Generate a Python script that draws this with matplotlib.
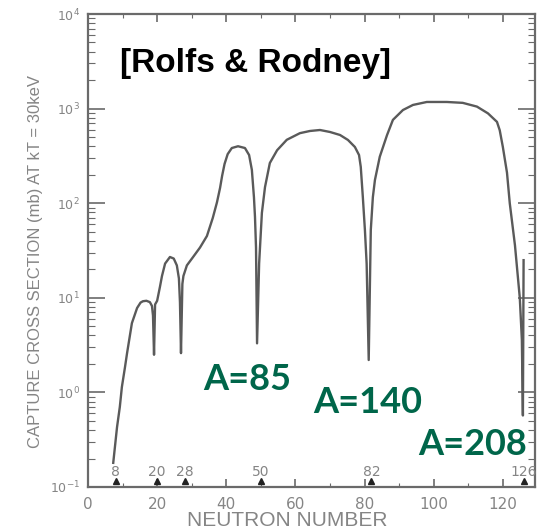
import matplotlib
matplotlib.use("Agg")
import matplotlib.pyplot as plt
from matplotlib.ticker import MultipleLocator, LogLocator, NullFormatter

# capture cross section curve
neutron_number = [7.3, 8.4, 9.2, 9.8, 10.7, 11.3, 12.7, 14.2, 15.2, 15.9, 16.9, 17.9, 18.5,
                  18.8, 19.1, 19.4, 20.0, 20.8, 21.4, 22.3, 23.7, 24.8, 25.7, 26.3, 26.6,
                  26.9, 27.3, 27.6, 28.6, 30.4, 32.4, 34.4, 36.1, 37.3, 38.2, 38.8, 39.5,
                  40.4, 41.6, 43.4, 45.4, 46.6, 47.4, 48.0, 48.3, 48.6, 48.9, 49.5, 50.3,
                  51.2, 52.6, 54.7, 57.5, 61.3, 64.2, 67.1, 70.0, 72.9, 75.2, 77.2, 78.4,
                  78.9, 79.5, 80.1, 80.6, 81.2, 81.8, 82.4, 83.0, 84.4, 86.5, 88.2, 91.1,
                  94.0, 98.0, 103.8, 108.4, 112.5, 115.7, 118.3, 119.1, 120.0, 121.2, 122.0,
                  123.5, 124.9, 125.5, 125.8, 126.0]
cross_section = [0.18, 0.43, 0.70, 1.14, 1.85, 2.6, 5.4, 7.8, 8.9, 9.2, 9.3, 9.0, 8.2,
                 6.5, 2.5, 8.5, 9.3, 13.0, 17.0, 23.0, 27.0, 26.0, 22.0, 16.0, 9.0,
                 2.6, 14.0, 17.0, 22.0, 27.0, 34.0, 45.0, 70.0, 102.0, 145.0, 195.0, 260.0,
                 330.0, 383.0, 400.0, 383.0, 323.0, 225.0, 116.0, 72.0, 34.0, 3.3, 23.0, 79.0,
                 148.0, 266.0, 363.0, 468.0, 550.0, 580.0, 594.0, 566.0, 526.0, 466.0, 393.0, 323.0,
                 242.0, 116.0, 52.0, 23.0, 2.2, 52.0, 116.0, 176.0, 310.0, 525.0, 760.0, 966.0,
                 1093.0, 1175.0, 1175.0, 1150.0, 1050.0, 890.0, 724.0, 590.0, 393.0, 210.0, 100.0,
                 36.0, 10.0, 3.6, 0.57, 25.0]

magic_numbers = [8, 20, 28, 50, 82, 126]
mass_labels = ["A=85", "A=140", "A=208"]

gray = "#6a6a6a"
light_gray = "#858585"
green = "#00664a"

fig = plt.figure(figsize=(5.39, 5.29), dpi=100)
ax = fig.add_axes([88 / 539, 1 - 487 / 529, 447 / 539, 473 / 529])

ax.plot(neutron_number, cross_section, color="#5a5a5a", lw=1.7, solid_joinstyle="round")

ax.set_yscale("log")
ax.set_xlim(0, 129.3)
ax.set_ylim(0.1, 1e4)

for s in ax.spines.values():
    s.set_color(gray)
    s.set_linewidth(1.6)

ax.xaxis.set_major_locator(MultipleLocator(20))
ax.xaxis.set_minor_locator(MultipleLocator(10))
ax.yaxis.set_major_locator(LogLocator(base=10, numticks=10))
ax.yaxis.set_minor_locator(LogLocator(base=10, subs=range(2, 10), numticks=10))
ax.yaxis.set_minor_formatter(NullFormatter())

ax.tick_params(axis="both", which="both", direction="in", top=True, right=True, colors=gray)
ax.tick_params(axis="y", which="major", length=12, width=1.2, pad=6, labelsize=9, labelcolor=light_gray)
ax.tick_params(axis="y", which="minor", length=5, width=0.8)
ax.tick_params(axis="x", which="major", length=6, width=1.2, pad=7, labelsize=11, labelcolor=light_gray)
ax.tick_params(axis="x", which="minor", length=3, width=0.8)

# magic number markers along the bottom
trans = ax.get_xaxis_transform()
ax.plot(magic_numbers, [0.012] * len(magic_numbers), "^", ms=4, color="#222222",
        transform=trans, clip_on=False)
for m in magic_numbers:
    ax.text(m, 0.031, str(m), transform=trans, ha="center", va="center",
            fontsize=10, color=light_gray)

fig.text(36 / 539, 1 - 261 / 529, "CAPTURE CROSS SECTION (mb) AT kT = 30keV",
         rotation=90, ha="center", va="center", fontsize=12,
         family="Liberation Sans", color=light_gray)
fig.text(287 / 539, 1 - 521 / 529, "NEUTRON NUMBER", ha="center", va="center",
         fontsize=15, family="Liberation Sans", color=light_gray)

fig.text(120 / 539, 1 - 72 / 529, "[Rolfs & Rodney]", ha="left", va="baseline",
         fontsize=24, fontweight="bold", family="Liberation Sans", color="black")

label_pos = [(203, 390), (313, 413), (418, 455)]
for txt, (px, py) in zip(mass_labels, label_pos):
    fig.text(px / 539, 1 - py / 529, txt, ha="left", va="baseline",
             fontsize=26, fontweight="bold", family="Lato", color=green)

fig.savefig("out.png", dpi=100)
